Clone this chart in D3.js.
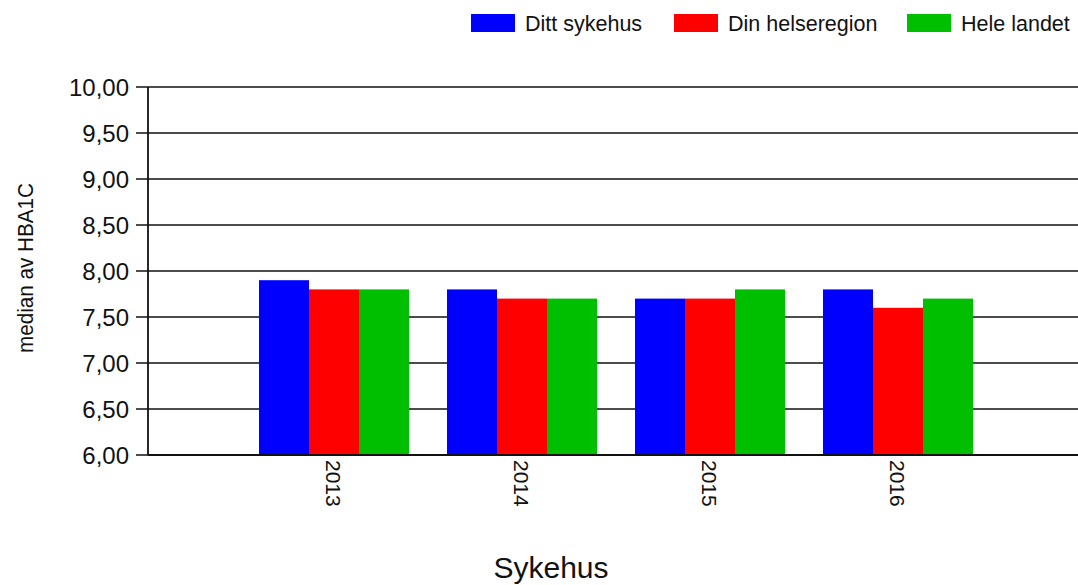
<!DOCTYPE html>
<html lang="no">
<head>
    <meta charset="UTF-8">
    <title>median av HBA1C</title>
    <script src="https://d3js.org/d3.v7.min.js"></script>
    <style>
        body {
            margin: 0;
            background: #fff;
        }
        svg text {
            font-family: "Liberation Sans", Arial, sans-serif;
            fill: #111;
        }
    </style>
</head>
<body>
    <div id="chart"></div>
    <script>
        // data
        const years = ["2013", "2014", "2015", "2016"];
        const series = ["Ditt sykehus", "Din helseregion", "Hele landet"];
        const dittSykehus = [7.9, 7.8, 7.7, 7.8];
        const dinHelseregion = [7.8, 7.7, 7.7, 7.6];
        const heleLandet = [7.8, 7.7, 7.8, 7.7];
        const yTicks = [6, 6.5, 7, 7.5, 8, 8.5, 9, 9.5, 10];

        const colors = ["#0000ff", "#ff0000", "#00bf00"];
        const values = [dittSykehus, dinHelseregion, heleLandet];

        const width = 1078;
        const height = 585;
        const axisX = 148;

        const svg = d3.select("#chart")
            .append("svg")
            .attr("width", width)
            .attr("height", height);

        // category positions: MS-chart style axis from 0 to 5
        const x = d3.scaleLinear()
            .domain([0, years.length + 1])
            .range([146, 1086]);

        const y = d3.scaleLinear()
            .domain([6, 10])
            .range([455, 87]);

        const inner = d3.scaleBand()
            .domain(series)
            .range([-75, 75]);

        // gridlines
        svg.append("g")
            .selectAll("line")
            .data(yTicks)
            .enter()
            .append("line")
            .attr("x1", axisX - 12)
            .attr("x2", width)
            .attr("y1", d => y(d))
            .attr("y2", d => y(d))
            .attr("stroke", "#111")
            .attr("stroke-width", 1.6);

        // bars
        const groups = svg.append("g")
            .selectAll("g")
            .data(years)
            .enter()
            .append("g")
            .attr("transform", (d, i) => `translate(${x(i + 1)},0)`);

        groups.selectAll("rect")
            .data((d, i) => series.map((s, j) => ({ s: s, v: values[j][i], c: colors[j] })))
            .enter()
            .append("rect")
            .attr("x", d => inner(d.s))
            .attr("width", inner.bandwidth())
            .attr("y", d => y(d.v))
            .attr("height", d => y(6) - y(d.v))
            .attr("fill", d => d.c);

        // axes lines
        svg.append("line")
            .attr("x1", axisX).attr("x2", axisX)
            .attr("y1", y(10)).attr("y2", y(6))
            .attr("stroke", "#111")
            .attr("stroke-width", 1.8);

        svg.append("line")
            .attr("x1", axisX).attr("x2", width)
            .attr("y1", y(6)).attr("y2", y(6))
            .attr("stroke", "#111")
            .attr("stroke-width", 1.8);

        // y tick labels
        svg.append("g")
            .selectAll("text")
            .data(yTicks)
            .enter()
            .append("text")
            .attr("x", 129)
            .attr("y", d => y(d))
            .attr("dy", "0.36em")
            .attr("text-anchor", "end")
            .style("font-size", "24px")
            .text(d => d3.format(".2f")(d).replace(".", ","));

        // x tick labels, rotated
        svg.append("g")
            .selectAll("text")
            .data(years)
            .enter()
            .append("text")
            .attr("transform", (d, i) => `translate(${x(i + 1)},460) rotate(90)`)
            .attr("dy", "0.36em")
            .attr("text-anchor", "start")
            .style("font-size", "21px")
            .text(d => d);

        // axis titles
        svg.append("text")
            .attr("transform", "translate(25,268) rotate(-90)")
            .attr("dy", "0.36em")
            .attr("text-anchor", "middle")
            .attr("textLength", 170)
            .attr("lengthAdjust", "spacingAndGlyphs")
            .style("font-size", "22px")
            .text("median av HBA1C");

        svg.append("text")
            .attr("x", 551)
            .attr("y", 578)
            .attr("text-anchor", "middle")
            .style("font-size", "30px")
            .text("Sykehus");

        // legend
        const legendX = [471, 674, 907];
        const legend = svg.append("g")
            .selectAll("g")
            .data(series)
            .enter()
            .append("g")
            .attr("transform", (d, i) => `translate(${legendX[i]},14)`);

        legend.append("rect")
            .attr("width", 44)
            .attr("height", 18)
            .attr("fill", (d, i) => colors[i]);

        legend.append("text")
            .attr("x", 54)
            .attr("y", 9)
            .attr("dy", "0.36em")
            .style("font-size", "21.5px")
            .text(d => d);
    </script>
</body>
</html>
